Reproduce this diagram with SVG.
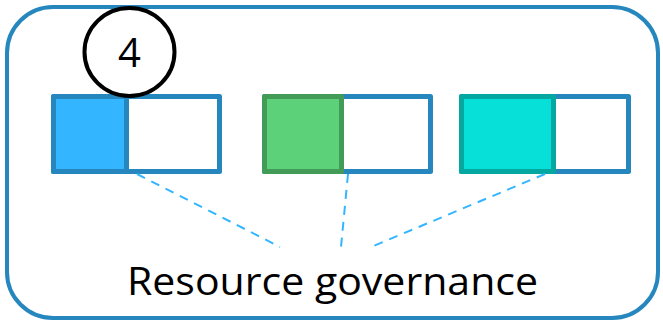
<svg xmlns="http://www.w3.org/2000/svg" width="663" height="324" viewBox="0 0 663 324">
<style>
.frame{fill:#fff;stroke:#2587bd;stroke-width:4}
.slot{fill:#fff;stroke:#2587bd;stroke-width:5;stroke-linejoin:round}
.conn{stroke:#33b5ff;stroke-width:2;stroke-dasharray:9,7;fill:none}
.lbl{font-family:"Open Sans","Noto Sans",sans-serif;fill:#000}
</style>
<rect class="frame" x="7" y="7" width="651" height="311" rx="46" ry="46"/>
<g id="node-1">
<rect class="slot" x="53.5" y="96.5" width="166" height="75"/>
<rect x="53.5" y="96.5" width="73" height="75" fill="#33b5ff" stroke="#2587bd" stroke-width="5" stroke-linejoin="round"/>
</g>
<g id="node-2">
<rect class="slot" x="264.5" y="96.5" width="166" height="75"/>
<rect x="264.5" y="96.5" width="77" height="75" fill="#5dd07a" stroke="#439b58" stroke-width="5" stroke-linejoin="round"/>
</g>
<g id="node-3">
<rect class="slot" x="461.5" y="96.5" width="167" height="75"/>
<rect x="461.5" y="96.5" width="92" height="75" fill="#06e0d8" stroke="#05a8a0" stroke-width="5" stroke-linejoin="round"/>
</g>
<g id="badge">
<ellipse cx="129.5" cy="52" rx="45" ry="44" fill="#fff" stroke="#000" stroke-width="4"/>
<text class="lbl" x="129.5" y="67" font-size="40" text-anchor="middle">4</text>
</g>
<g id="connectors">
<line class="conn" x1="137" y1="174" x2="280" y2="247"/>
<line class="conn" x1="348" y1="174" x2="341" y2="247"/>
<line class="conn" x1="545" y1="174" x2="371" y2="247"/>
</g>
<g id="label">
<text class="lbl" x="127" y="295" font-size="39" textLength="411" lengthAdjust="spacingAndGlyphs">Resource governance</text>
</g>
</svg>
